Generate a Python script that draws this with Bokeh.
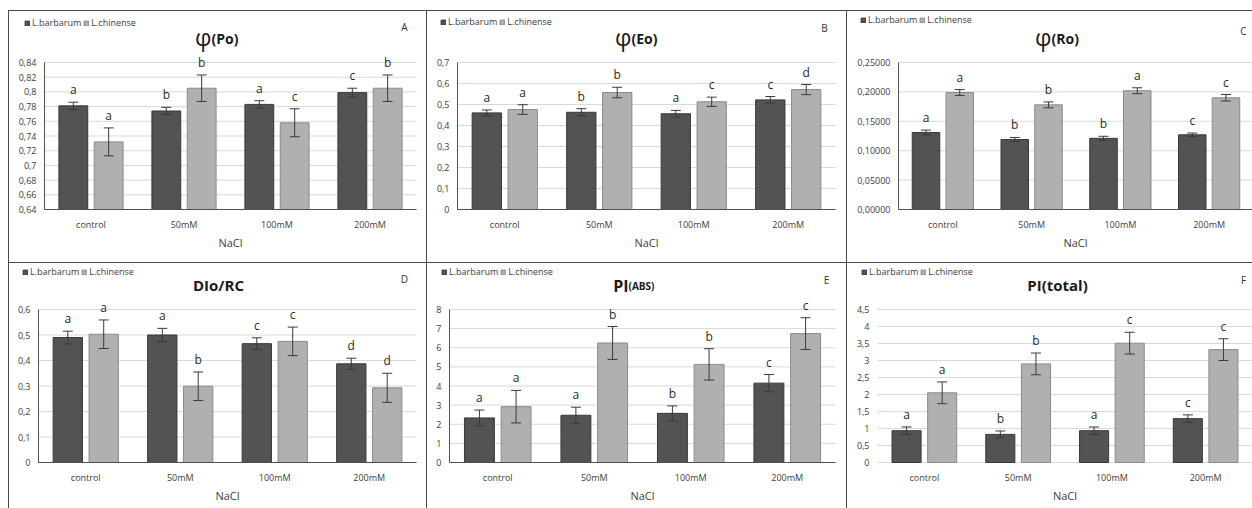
from bokeh.plotting import figure
from bokeh.layouts import gridplot, column, row
from bokeh.models import (ColumnDataSource, Range1d, FixedTicker, Whisker, TeeHead, Label,
                          Legend, LegendItem, Spacer)
from bokeh.core.properties import value
from bokeh.embed import file_html
from bokeh.resources import INLINE

# ---------------- data ----------------
categories = ["control", "50mM", "100mM", "200mM"]
series_names = ["L.barbarum", "L.chinense"]
x_axis_title = "NaCl"

# A  phi(Po)
po_barbarum = [0.781, 0.774, 0.783, 0.799]
po_barbarum_err = [0.005, 0.005, 0.005, 0.006]
po_chinense = [0.732, 0.805, 0.758, 0.805]
po_chinense_err = [0.019, 0.018, 0.019, 0.018]
po_barbarum_letters = ["a", "b", "a", "c"]
po_chinense_letters = ["a", "b", "c", "b"]
po_ticks = [0.64, 0.66, 0.68, 0.7, 0.72, 0.74, 0.76, 0.78, 0.8, 0.82, 0.84]
po_tick_labels = ["0,64", "0,66", "0,68", "0,7", "0,72", "0,74", "0,76", "0,78", "0,8", "0,82", "0,84"]

# B  phi(Eo)
eo_barbarum = [0.460, 0.463, 0.456, 0.522]
eo_barbarum_err = [0.014, 0.017, 0.016, 0.016]
eo_chinense = [0.476, 0.557, 0.513, 0.571]
eo_chinense_err = [0.023, 0.025, 0.022, 0.024]
eo_barbarum_letters = ["a", "b", "a", "c"]
eo_chinense_letters = ["a", "b", "c", "d"]
eo_ticks = [0, 0.1, 0.2, 0.3, 0.4, 0.5, 0.6, 0.7]
eo_tick_labels = ["0", "0,1", "0,2", "0,3", "0,4", "0,5", "0,6", "0,7"]

# C  phi(Ro)
ro_barbarum = [0.131, 0.119, 0.121, 0.127]
ro_barbarum_err = [0.004, 0.0035, 0.0035, 0.003]
ro_chinense = [0.199, 0.178, 0.202, 0.190]
ro_chinense_err = [0.005, 0.005, 0.005, 0.0055]
ro_barbarum_letters = ["a", "b", "b", "c"]
ro_chinense_letters = ["a", "b", "a", "c"]
ro_ticks = [0, 0.05, 0.1, 0.15, 0.2, 0.25]
ro_tick_labels = ["0,00000", "0,05000", "0,10000", "0,15000", "0,20000", "0,25000"]

# D  DIo/RC
dio_barbarum = [0.490, 0.500, 0.466, 0.387]
dio_barbarum_err = [0.025, 0.026, 0.023, 0.022]
dio_chinense = [0.503, 0.299, 0.475, 0.293]
dio_chinense_err = [0.056, 0.056, 0.056, 0.057]
dio_barbarum_letters = ["a", "a", "c", "d"]
dio_chinense_letters = ["a", "b", "c", "d"]
dio_ticks = [0, 0.1, 0.2, 0.3, 0.4, 0.5, 0.6]
dio_tick_labels = ["0", "0,1", "0,2", "0,3", "0,4", "0,5", "0,6"]

# E  PI(ABS)
piabs_barbarum = [2.33, 2.47, 2.57, 4.15]
piabs_barbarum_err = [0.41, 0.42, 0.39, 0.45]
piabs_chinense = [2.92, 6.25, 5.13, 6.74]
piabs_chinense_err = [0.85, 0.86, 0.82, 0.83]
piabs_barbarum_letters = ["a", "a", "b", "c"]
piabs_chinense_letters = ["a", "b", "b", "c"]
piabs_ticks = [0, 1, 2, 3, 4, 5, 6, 7, 8]
piabs_tick_labels = ["0", "1", "2", "3", "4", "5", "6", "7", "8"]

# F  PI(total)
pitot_barbarum = [0.935, 0.827, 0.935, 1.29]
pitot_barbarum_err = [0.11, 0.10, 0.11, 0.11]
pitot_chinense = [2.05, 2.90, 3.51, 3.32]
pitot_chinense_err = [0.32, 0.32, 0.32, 0.32]
pitot_barbarum_letters = ["a", "b", "a", "c"]
pitot_chinense_letters = ["a", "b", "c", "c"]
pitot_ticks = [0, 0.5, 1, 1.5, 2, 2.5, 3, 3.5, 4, 4.5]
pitot_tick_labels = ["0", "0,5", "1", "1,5", "2", "2,5", "3", "3,5", "4", "4,5"]

# ---------------- layout / style ----------------
FONT = "Open Sans"
TXT = "#404040"
DARK, DARK_EDGE = "#535353", "#383838"
LIGHT, LIGHT_EDGE = "#b0b0b0", "#8a8a8a"
ERR = "#3a3a3a"
GRID = "#d9d9d9"
BORDER = "#4a4a4a"

FIG_X = [8, 426, 846]          # page x of each column
FIG_W = [418, 420, 406]
FIG_Y = [10, 262]              # page y of each row
FIG_H = [252, 246]
ROW_AXIS = [(209, 62), (462, 309)]   # page y of lowest / highest tick per row
LEG_H = 12
OFFS = 0.19
BAR_W = 0.31

# title parts: (text, size, style, align, page x, page baseline y)
panels = [
    dict(letter="A", row=0, col=0, xpx=(44, 416), v=(po_barbarum, po_chinense),
         e=(po_barbarum_err, po_chinense_err), t=(po_barbarum_letters, po_chinense_letters),
         ticks=po_ticks, labels=po_tick_labels,
         title=[("φ", "23px", "normal", "right", 211, 36), ("(Po)", "14px", "bold", "left", 211, 38)],
         axis=True, legend=(24, 17), letter_pos=(404, 26)),
    dict(letter="B", row=0, col=1, xpx=(457, 835), v=(eo_barbarum, eo_chinense),
         e=(eo_barbarum_err, eo_chinense_err), t=(eo_barbarum_letters, eo_chinense_letters),
         ticks=eo_ticks, labels=eo_tick_labels,
         title=[("φ", "23px", "normal", "right", 631, 36), ("(Eo)", "14px", "bold", "left", 631, 38)],
         axis=True, legend=(440, 16), letter_pos=(824, 27)),
    dict(letter="C", row=0, col=2, xpx=(898, 1253), v=(ro_barbarum, ro_chinense),
         e=(ro_barbarum_err, ro_chinense_err), t=(ro_barbarum_letters, ro_chinense_letters),
         ticks=ro_ticks, labels=ro_tick_labels,
         title=[("φ", "23px", "normal", "right", 1051, 36), ("(Ro)", "14px", "bold", "left", 1051, 38)],
         axis=True, legend=(860, 14), letter_pos=(1243, 30)),
    dict(letter="D", row=1, col=0, xpx=(38, 416), v=(dio_barbarum, dio_chinense),
         e=(dio_barbarum_err, dio_chinense_err), t=(dio_barbarum_letters, dio_chinense_letters),
         ticks=dio_ticks, labels=dio_tick_labels,
         title=[("DIo/RC", "15px", "bold", "center", 218, 284)],
         axis=True, legend=(22, 266), letter_pos=(404, 278)),
    dict(letter="E", row=1, col=1, xpx=(449, 835), v=(piabs_barbarum, piabs_chinense),
         e=(piabs_barbarum_err, piabs_chinense_err), t=(piabs_barbarum_letters, piabs_chinense_letters),
         ticks=piabs_ticks, labels=piabs_tick_labels,
         title=[("PI", "16px", "bold", "right", 628, 285), ("(ABS)", "10px", "bold", "left", 628, 285)],
         axis=True, legend=(441, 266), letter_pos=(826, 279)),
    dict(letter="F", row=1, col=2, xpx=(877, 1252), v=(pitot_barbarum, pitot_chinense),
         e=(pitot_barbarum_err, pitot_chinense_err), t=(pitot_barbarum_letters, pitot_chinense_letters),
         ticks=pitot_ticks, labels=pitot_tick_labels,
         title=[("PI(total)", "15px", "bold", "center", 1057, 284)],
         axis=False, legend=(861, 266), letter_pos=(1243, 279)),
]

n = len(categories)
centers = [i + 0.5 for i in range(n)]

figs = [[None] * 3 for _ in range(2)]
for pn in panels:
    r, c = pn["row"], pn["col"]
    fx, fw, fy, fh = FIG_X[c], FIG_W[c], FIG_Y[r], FIG_H[r]
    fb = fy + fh                     # page y of the frame bottom (frame fills the figure)
    ax_px, right_px = pn["xpx"]
    unit = (right_px - ax_px) / n
    xs = -(ax_px - fx) / unit
    xe = n + (fx + fw - right_px) / unit
    ticks = pn["ticks"]
    y0, y1 = ticks[0], ticks[-1]
    ybot_px, ytop_px = ROW_AXIS[r]
    ppu = (ybot_px - ytop_px) / (y1 - y0)
    ye = y1 + (ytop_px - fy) / ppu
    ys = y0 - (fb - ybot_px) / ppu

    p = figure(x_range=Range1d(xs, xe), y_range=Range1d(ys, ye),
               width=fw, height=fh,
               min_border_left=0, min_border_right=0, min_border_top=0, min_border_bottom=0,
               output_backend="svg", toolbar_location=None)
    p.outline_line_color = None
    p.background_fill_color = None
    p.border_fill_color = None
    p.styles = {"box-shadow": f"inset 1px 1px 0 {BORDER}"}

    # gridlines (across the category area only)
    p.xgrid.visible = False
    p.ygrid.visible = False
    p.segment(x0=[0] * len(ticks), x1=[n] * len(ticks), y0=ticks, y1=ticks,
              line_color=GRID, line_width=1)

    data = dict(cat=categories)
    for i, off in enumerate((-OFFS, OFFS)):
        vals, errs = pn["v"][i], pn["e"][i]
        data[f"x{i}"] = [cx + off for cx in centers]
        data[f"v{i}"] = vals
        data[f"up{i}"] = [v + e for v, e in zip(vals, errs)]
        data[f"lo{i}"] = [v - e for v, e in zip(vals, errs)]
        data[f"t{i}"] = pn["t"][i]
    src = ColumnDataSource(data)

    rends = []
    for i, (fc, lc) in enumerate([(DARK, DARK_EDGE), (LIGHT, LIGHT_EDGE)]):
        rb = p.vbar(x=f"x{i}", top=f"v{i}", bottom=y0, width=BAR_W, source=src,
                    fill_color=fc, line_color=lc, line_width=1)
        rends.append(rb)
        w = Whisker(source=src, base=f"x{i}", upper=f"up{i}", lower=f"lo{i}",
                    line_color=ERR, line_width=1, level="overlay",
                    upper_head=TeeHead(size=10, line_color=ERR, line_width=1),
                    lower_head=TeeHead(size=10, line_color=ERR, line_width=1))
        p.add_layout(w)
        p.text(x=f"x{i}", y=f"up{i}", text=f"t{i}", source=src,
               text_align="center", text_baseline="bottom", y_offset=-4,
               text_font=value(FONT), text_font_size="12px", text_color="#2a2a2a")

    # axes
    p.yaxis.fixed_location = 0
    p.yaxis.bounds = (y0, y1)
    p.yaxis.ticker = FixedTicker(ticks=ticks)
    p.yaxis.major_label_overrides = dict(zip(ticks, pn["labels"]))
    p.xaxis.fixed_location = y0
    p.xaxis.bounds = (0, n)
    p.xaxis.ticker = FixedTicker(ticks=centers)
    p.xaxis.major_label_overrides = dict(zip(centers, categories))
    for ax in (p.xaxis[0], p.yaxis[0]):
        ax.major_tick_line_color = None
        ax.minor_tick_line_color = None
        ax.major_tick_out = 0
        ax.major_tick_in = 0
        ax.major_label_text_font = FONT
        ax.major_label_text_font_size = "9px"
        ax.major_label_text_color = TXT
        ax.axis_line_color = "#505050" if pn["axis"] else None
    p.yaxis.major_label_standoff = 8
    p.xaxis.major_label_standoff = 8
    p.xaxis.axis_label = x_axis_title
    p.xaxis.axis_label_text_font = FONT
    p.xaxis.axis_label_text_font_size = "11px"
    p.xaxis.axis_label_text_font_style = "normal"
    p.xaxis.axis_label_text_color = TXT
    p.xaxis.axis_label_standoff = 1

    # legend
    lx, ly = pn["legend"]
    leg = Legend(items=[LegendItem(label=series_names[0], renderers=[rends[0]]),
                        LegendItem(label=series_names[1], renderers=[rends[1]])],
                 location=(lx - fx, fb - (ly + LEG_H)), orientation="horizontal",
                 glyph_width=6, glyph_height=6, label_standoff=2, spacing=2,
                 padding=0, margin=0, label_height=LEG_H,
                 label_text_font=FONT, label_text_font_size="9px", label_text_color=TXT,
                 border_line_color=None, background_fill_alpha=0)
    p.add_layout(leg)

    # title
    for text, size, style, align, px, py in pn["title"]:
        p.add_layout(Label(x=px - fx, y=fb - py, x_units="screen", y_units="screen",
                           text=text, text_font=FONT, text_font_size=size, text_font_style=style,
                           text_align=align, text_baseline="alphabetic", text_color="#1a1a1a"))
    # panel letter
    qx, qy = pn["letter_pos"]
    p.add_layout(Label(x=qx - fx, y=fb - qy, x_units="screen", y_units="screen",
                       text=pn["letter"], text_font=FONT, text_font_size="10px",
                       text_align="center", text_baseline="middle", text_color="#333333"))
    figs[r][c] = p

grid = gridplot(figs, toolbar_location=None)
page = column(Spacer(height=10), row(Spacer(width=8), grid))
open("out.html", "w").write(file_html(page, INLINE))
